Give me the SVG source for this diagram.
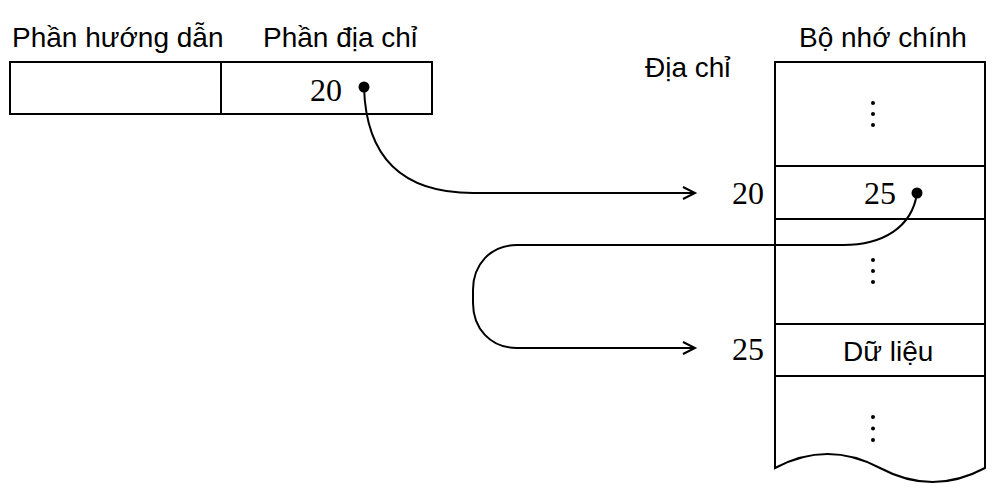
<svg xmlns="http://www.w3.org/2000/svg" width="999" height="499" viewBox="0 0 999 499">
<style>
.lbl{font-family:"Liberation Sans",Arial,sans-serif;font-size:28px;fill:#000}
.num{font-family:"Liberation Serif","Times New Roman",serif;font-size:32px;fill:#000}
.box{fill:#fff;stroke:#000;stroke-width:2}
.ln{fill:none;stroke:#000;stroke-width:2}
.conn{fill:none;stroke:#000;stroke-width:2}
.dot{fill:#000}
</style>
<defs>
<marker id="arr" markerUnits="userSpaceOnUse" markerWidth="16" markerHeight="16" refX="13" refY="7" orient="auto">
<path d="M1,1 L13,7 L1,13" fill="none" stroke="#000" stroke-width="2"/>
</marker>
</defs>
<rect width="999" height="499" fill="#fff"/>
<g id="instruction">
<text class="lbl" x="12" y="47">Phần hướng dẫn</text>
<text class="lbl" x="263" y="47">Phần địa chỉ</text>
<rect class="box" x="10" y="62" width="422" height="52"/>
<line class="ln" x1="221" y1="62" x2="221" y2="114"/>
<text class="num" x="310" y="101">20</text>
<circle class="dot" cx="364" cy="87" r="5.5"/>
</g>
<g id="memory">
<text class="lbl" x="799" y="47">Bộ nhớ chính</text>
<text class="lbl" x="645" y="77">Địa chỉ</text>
<path class="box" d="M775,62 L985,62 L985,468 C950,486.7 915,486.7 880,468 C845,449.3 810,449.3 775,468 Z"/>
<line class="ln" x1="775" y1="166" x2="985" y2="166"/>
<line class="ln" x1="775" y1="219" x2="985" y2="219"/>
<line class="ln" x1="775" y1="324" x2="985" y2="324"/>
<line class="ln" x1="775" y1="376" x2="985" y2="376"/>
<circle class="dot" cx="873" cy="103" r="2"/>
<circle class="dot" cx="873" cy="114" r="2"/>
<circle class="dot" cx="873" cy="125" r="2"/>
<text class="num" x="864" y="204">25</text>
<circle class="dot" cx="917" cy="193" r="5.5"/>
<circle class="dot" cx="873" cy="260" r="2"/>
<circle class="dot" cx="873" cy="271" r="2"/>
<circle class="dot" cx="873" cy="282" r="2"/>
<text class="lbl" x="843" y="361">Dữ liệu</text>
<circle class="dot" cx="873" cy="417" r="2"/>
<circle class="dot" cx="873" cy="428.5" r="2"/>
<circle class="dot" cx="873" cy="440" r="2"/>
<text class="num" x="732" y="204">20</text>
<text class="num" x="732" y="360">25</text>
</g>
<g id="connectors">
<path class="conn" d="M364,87 C366,160 405,193 473,193 L695,193" marker-end="url(#arr)"/>
<path class="conn" d="M917,193 C912,228 882,245 843,245 L517,245 C490,245 473,265 473,290 L473,303 C473,328 490,348 517,348 L695,348" marker-end="url(#arr)"/>
</g>
</svg>
